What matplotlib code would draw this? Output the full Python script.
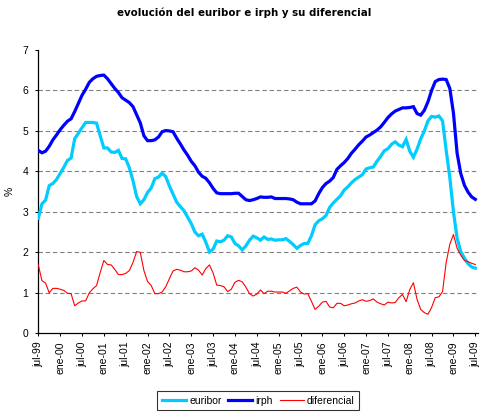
import matplotlib
matplotlib.use("Agg")
import matplotlib.pyplot as plt
import numpy as np

# monthly values jul-99 .. jul-09
euribor = [2.84, 3.20, 3.29, 3.65, 3.70, 3.80, 3.95, 4.10, 4.27, 4.33,
           4.81, 4.94, 5.08, 5.21, 5.21, 5.21, 5.19, 4.88, 4.58, 4.58,
           4.48, 4.47, 4.52, 4.32, 4.31, 4.09, 3.77, 3.38, 3.20, 3.30,
           3.48, 3.59, 3.82, 3.86, 3.96, 3.87, 3.64, 3.44, 3.24, 3.13,
           3.03, 2.87, 2.71, 2.50, 2.41, 2.45, 2.25, 2.01, 2.08, 2.28,
           2.26, 2.30, 2.41, 2.38, 2.22, 2.16, 2.06, 2.16, 2.30, 2.40,
           2.36, 2.30, 2.38, 2.32, 2.33, 2.30, 2.31, 2.31, 2.34, 2.27,
           2.19, 2.10, 2.17, 2.22, 2.22, 2.41, 2.68, 2.78, 2.83, 2.91,
           3.11, 3.22, 3.31, 3.40, 3.54, 3.62, 3.72, 3.80, 3.86, 3.92,
           4.06, 4.09, 4.11, 4.25, 4.37, 4.51, 4.56, 4.67, 4.73, 4.65,
           4.61, 4.79, 4.50, 4.35, 4.55, 4.80, 5.00, 5.25, 5.36, 5.34,
           5.37, 5.25, 4.52, 3.85, 3.00, 2.35, 2.02, 1.86, 1.72, 1.64,
           1.61]

irph = [4.52, 4.46, 4.50, 4.62, 4.78, 4.90, 5.03, 5.14, 5.24, 5.30,
        5.48, 5.68, 5.88, 6.03, 6.20, 6.29, 6.35, 6.37, 6.38, 6.29,
        6.17, 6.05, 5.95, 5.82, 5.76, 5.70, 5.60, 5.40, 5.20, 4.88,
        4.76, 4.76, 4.78, 4.85, 4.98, 5.01, 5.00, 4.98, 4.82, 4.68,
        4.53, 4.40, 4.25, 4.14, 3.98, 3.88, 3.83, 3.72, 3.58, 3.47,
        3.45, 3.45, 3.45, 3.45, 3.46, 3.46, 3.38, 3.30, 3.28, 3.30,
        3.33, 3.37, 3.36, 3.36, 3.37, 3.33, 3.33, 3.33, 3.33, 3.32,
        3.30, 3.24, 3.20, 3.20, 3.20, 3.20, 3.27, 3.45, 3.60, 3.70,
        3.76, 3.85, 4.05, 4.14, 4.22, 4.32, 4.45, 4.55, 4.66, 4.75,
        4.85, 4.90, 4.96, 5.02, 5.10, 5.21, 5.33, 5.42, 5.49, 5.53,
        5.57, 5.57, 5.58, 5.60, 5.43, 5.39, 5.51, 5.72, 6.00, 6.22,
        6.27, 6.28, 6.27, 6.05, 5.44, 4.45, 3.95, 3.66, 3.49, 3.37,
        3.31]

diferencial = [1.69, 1.30, 1.24, 1.00, 1.11, 1.11, 1.09, 1.06, 0.99, 0.98,
               0.68, 0.75, 0.80, 0.80, 1.00, 1.10, 1.18, 1.50, 1.80, 1.70,
               1.69, 1.58, 1.45, 1.45, 1.48, 1.55, 1.75, 2.02, 2.00, 1.55,
               1.28, 1.18, 0.98, 0.98, 1.02, 1.15, 1.35, 1.54, 1.58, 1.56,
               1.52, 1.52, 1.54, 1.62, 1.56, 1.44, 1.60, 1.69, 1.49, 1.19,
               1.18, 1.15, 1.03, 1.09, 1.26, 1.31, 1.27, 1.14, 0.98, 0.92,
               0.97, 1.07, 0.98, 1.04, 1.04, 1.02, 1.02, 1.02, 0.99, 1.05,
               1.11, 1.14, 1.02, 0.97, 0.98, 0.79, 0.59, 0.67, 0.77, 0.79,
               0.65, 0.63, 0.74, 0.74, 0.68, 0.70, 0.73, 0.75, 0.80, 0.83,
               0.79, 0.81, 0.85, 0.77, 0.73, 0.70, 0.77, 0.75, 0.76, 0.88,
               0.96, 0.78, 1.08, 1.25, 0.84, 0.59, 0.51, 0.47, 0.64, 0.88,
               0.90, 1.03, 1.75, 2.20, 2.44, 2.10, 1.93, 1.80, 1.77, 1.73,
               1.70]

tick_labels = ["jul-99", "ene-00", "jul-00", "ene-01", "jul-01", "ene-02",
               "jul-02", "ene-03", "jul-03", "ene-04", "jul-04", "ene-05",
               "jul-05", "ene-06", "jul-06", "ene-07", "jul-07", "ene-08",
               "jul-08", "ene-09", "jul-09"]
tick_step = 6

W, H = 489, 418
fig = plt.figure(figsize=(W / 100, H / 100), dpi=100)
fig.patch.set_facecolor("white")

left, right, top, bottom = 38.3, 478.3, 50.0, 333.3
ax = fig.add_axes([left / W, 1 - bottom / H, (right - left) / W, (bottom - top) / H])

x = np.arange(len(euribor))
ax.plot(x, euribor, color="#00CCFF", lw=2.3, label="euribor", solid_joinstyle="miter", zorder=3)
ax.plot(x, irph, color="#0000FF", lw=2.3, label="irph", solid_joinstyle="miter", zorder=4)
ax.plot(x, diferencial, color="#FF0000", lw=0.8, label="diferencial", zorder=5)

ax.set_xlim(0, 120.82)
ax.set_ylim(0, 7)
ax.set_yticks(range(0, 8))
for v in range(1, 7):
    ax.axhline(v, color="#808080", lw=0.8, linestyle=(0, (4, 2.5)), zorder=1)

ax.set_xticks(np.arange(0, len(tick_labels)) * tick_step)
ax.set_xticklabels(tick_labels, rotation=90, fontsize=7.5, family="Liberation Sans")
for lab in ax.get_yticklabels():
    lab.set_fontsize(7.5)
    lab.set_family("Liberation Sans")

ax.tick_params(axis="y", direction="out", length=2.5, width=0.75, pad=4.5)
ax.tick_params(axis="x", direction="out", length=2.5, width=0.75, pad=3.5)

for s in ["top", "right"]:
    ax.spines[s].set_visible(False)
for s in ["left", "bottom"]:
    ax.spines[s].set_linewidth(0.9)
    ax.spines[s].set_color("black")

fig.text(244.5 / W, 1 - 13 / H, "evolución del euribor e irph y su diferencial",
         ha="center", va="center", fontsize=7.4, fontweight="bold", family="DejaVu Sans")
fig.text(10 / W, 1 - 191.7 / H, "%", rotation=90, ha="center", va="center",
         fontsize=7.5, family="Liberation Sans")

leg = fig.legend(loc="center", bbox_to_anchor=(258.3 / W, 1 - 400.5 / H), ncol=3,
                 prop={"family": "Liberation Sans", "size": 7.5},
                 frameon=True, fancybox=False, shadow=False, borderpad=0.45,
                 handlelength=2.3, handletextpad=0.3, columnspacing=0.65,
                 borderaxespad=0)
leg.get_frame().set_edgecolor("black")
leg.get_frame().set_linewidth(0.8)

fig.savefig("out.png", dpi=100, facecolor="white")
